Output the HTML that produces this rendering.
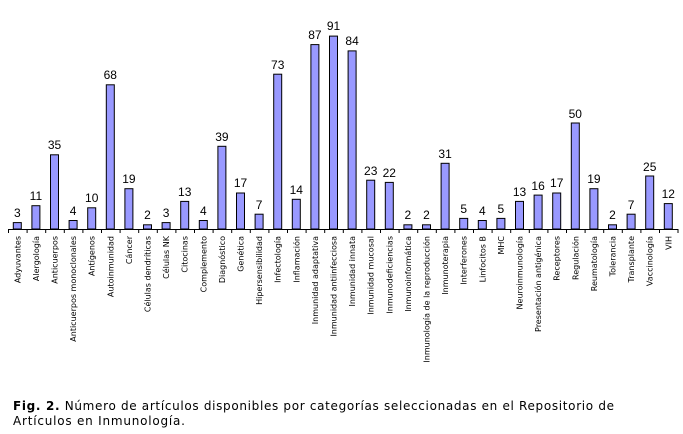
<!DOCTYPE html>
<html><head><meta charset="utf-8"><style>
body{margin:0;background:#fff;width:683px;height:434px;overflow:hidden}
svg{display:block}
.v{font:12px "Liberation Sans",sans-serif;text-anchor:middle;fill:#000}
.c{font:8px "DejaVu Sans",sans-serif;text-anchor:end;fill:#000}
rect{fill:#9999ff;stroke:#000;stroke-width:1}
.cap{font:12px "DejaVu Sans",sans-serif;fill:#000}
</style></head><body>
<svg width="683" height="434" xmlns="http://www.w3.org/2000/svg">
<g id="bars">
<g transform="translate(17.3,0)"><rect x="-4" y="222.6" width="8" height="6.4"/><text class="v" y="217">3</text><text class="c" transform="translate(3,236) rotate(-90)">Adyuvantes</text></g>
<g transform="translate(35.9,0)"><rect x="-4" y="205.7" width="8" height="23.3"/><text class="v" y="200">11</text><text class="c" transform="translate(3,236) rotate(-90)">Alergología</text></g>
<g transform="translate(54.5,0)"><rect x="-4" y="154.8" width="8" height="74.2"/><text class="v" y="149">35</text><text class="c" transform="translate(3,236) rotate(-90)">Anticuerpos</text></g>
<g transform="translate(73.1,0)"><rect x="-4" y="220.5" width="8" height="8.5"/><text class="v" y="215">4</text><text class="c" transform="translate(3,236) rotate(-90)">Anticuerpos monoclonales</text></g>
<g transform="translate(91.7,0)"><rect x="-4" y="207.8" width="8" height="21.2"/><text class="v" y="202">10</text><text class="c" transform="translate(3,236) rotate(-90)">Antígenos</text></g>
<g transform="translate(110.3,0)"><rect x="-4" y="84.8" width="8" height="144.2"/><text class="v" y="79">68</text><text class="c" transform="translate(3,236) rotate(-90)">Autoinmunidad</text></g>
<g transform="translate(128.9,0)"><rect x="-4" y="188.7" width="8" height="40.3"/><text class="v" y="183">19</text><text class="c" transform="translate(3,236) rotate(-90)">Cáncer</text></g>
<g transform="translate(147.5,0)"><rect x="-4" y="224.8" width="8" height="4.2"/><text class="v" y="219">2</text><text class="c" transform="translate(3,236) rotate(-90)">Células dendríticas</text></g>
<g transform="translate(166.1,0)"><rect x="-4" y="222.6" width="8" height="6.4"/><text class="v" y="217">3</text><text class="c" transform="translate(3,236) rotate(-90)">Células NK</text></g>
<g transform="translate(184.7,0)"><rect x="-4" y="201.4" width="8" height="27.6"/><text class="v" y="196">13</text><text class="c" transform="translate(3,236) rotate(-90)">Citocinas</text></g>
<g transform="translate(203.3,0)"><rect x="-4" y="220.5" width="8" height="8.5"/><text class="v" y="215">4</text><text class="c" transform="translate(3,236) rotate(-90)">Complemento</text></g>
<g transform="translate(221.9,0)"><rect x="-4" y="146.3" width="8" height="82.7"/><text class="v" y="141">39</text><text class="c" transform="translate(3,236) rotate(-90)">Diagnóstico</text></g>
<g transform="translate(240.5,0)"><rect x="-4" y="193" width="8" height="36"/><text class="v" y="187">17</text><text class="c" transform="translate(3,236) rotate(-90)">Genética</text></g>
<g transform="translate(259.1,0)"><rect x="-4" y="214.2" width="8" height="14.8"/><text class="v" y="209">7</text><text class="c" transform="translate(3,236) rotate(-90)">Hipersensibilidad</text></g>
<g transform="translate(277.7,0)"><rect x="-4" y="74.2" width="8" height="154.8"/><text class="v" y="69">73</text><text class="c" transform="translate(3,236) rotate(-90)">Infectología</text></g>
<g transform="translate(296.3,0)"><rect x="-4" y="199.3" width="8" height="29.7"/><text class="v" y="194">14</text><text class="c" transform="translate(3,236) rotate(-90)">Inflamación</text></g>
<g transform="translate(314.9,0)"><rect x="-4" y="44.6" width="8" height="184.4"/><text class="v" y="39">87</text><text class="c" transform="translate(3,236) rotate(-90)">Inmunidad adaptativa</text></g>
<g transform="translate(333.5,0)"><rect x="-4" y="36.1" width="8" height="192.9"/><text class="v" y="30">91</text><text class="c" transform="translate(3,236) rotate(-90)">Inmunidad antiinfecciosa</text></g>
<g transform="translate(352.1,0)"><rect x="-4" y="50.9" width="8" height="178.1"/><text class="v" y="45">84</text><text class="c" transform="translate(3,236) rotate(-90)">Inmunidad innata</text></g>
<g transform="translate(370.7,0)"><rect x="-4" y="180.2" width="8" height="48.8"/><text class="v" y="175">23</text><text class="c" transform="translate(3,236) rotate(-90)">Inmunidad mucosal</text></g>
<g transform="translate(389.3,0)"><rect x="-4" y="182.4" width="8" height="46.6"/><text class="v" y="177">22</text><text class="c" transform="translate(3,236) rotate(-90)">Inmunodeficiencias</text></g>
<g transform="translate(407.9,0)"><rect x="-4" y="224.8" width="8" height="4.2"/><text class="v" y="219">2</text><text class="c" transform="translate(3,236) rotate(-90)">Inmunoinformática</text></g>
<g transform="translate(426.5,0)"><rect x="-4" y="224.8" width="8" height="4.2"/><text class="v" y="219">2</text><text class="c" transform="translate(3,236) rotate(-90)">Inmunología de la reproducción</text></g>
<g transform="translate(445.1,0)"><rect x="-4" y="163.3" width="8" height="65.7"/><text class="v" y="158">31</text><text class="c" transform="translate(3,236) rotate(-90)">Inmunoterapia</text></g>
<g transform="translate(463.7,0)"><rect x="-4" y="218.4" width="8" height="10.6"/><text class="v" y="213">5</text><text class="c" transform="translate(3,236) rotate(-90)">Interferones</text></g>
<g transform="translate(482.3,0)"><rect x="-4" y="220.5" width="8" height="8.5"/><text class="v" y="215">4</text><text class="c" transform="translate(3,236) rotate(-90)">Linfocitos B</text></g>
<g transform="translate(500.9,0)"><rect x="-4" y="218.4" width="8" height="10.6"/><text class="v" y="213">5</text><text class="c" transform="translate(3,236) rotate(-90)">MHC</text></g>
<g transform="translate(519.5,0)"><rect x="-4" y="201.4" width="8" height="27.6"/><text class="v" y="196">13</text><text class="c" transform="translate(3,236) rotate(-90)">Neuroinmunología</text></g>
<g transform="translate(538.1,0)"><rect x="-4" y="195.1" width="8" height="33.9"/><text class="v" y="190">16</text><text class="c" transform="translate(3,236) rotate(-90)">Presentación antigénica</text></g>
<g transform="translate(556.7,0)"><rect x="-4" y="193" width="8" height="36"/><text class="v" y="187">17</text><text class="c" transform="translate(3,236) rotate(-90)">Receptores</text></g>
<g transform="translate(575.3,0)"><rect x="-4" y="123" width="8" height="106"/><text class="v" y="118">50</text><text class="c" transform="translate(3,236) rotate(-90)">Regulación</text></g>
<g transform="translate(593.9,0)"><rect x="-4" y="188.7" width="8" height="40.3"/><text class="v" y="183">19</text><text class="c" transform="translate(3,236) rotate(-90)">Reumatología</text></g>
<g transform="translate(612.5,0)"><rect x="-4" y="224.8" width="8" height="4.2"/><text class="v" y="219">2</text><text class="c" transform="translate(3,236) rotate(-90)">Tolerancia</text></g>
<g transform="translate(631.1,0)"><rect x="-4" y="214.2" width="8" height="14.8"/><text class="v" y="209">7</text><text class="c" transform="translate(3,236) rotate(-90)">Transplante</text></g>
<g transform="translate(649.7,0)"><rect x="-4" y="176" width="8" height="53"/><text class="v" y="171">25</text><text class="c" transform="translate(3,236) rotate(-90)">Vaccinología</text></g>
<g transform="translate(668.3,0)"><rect x="-4" y="203.6" width="8" height="25.4"/><text class="v" y="198">12</text><text class="c" transform="translate(3,236) rotate(-90)">VIH</text></g>
</g>
<line x1="8" y1="229.5" x2="678" y2="229.5" stroke="#000" stroke-width="1"/>
<path stroke="#000" stroke-width="1" fill="none" d="M8.5 229v4M27.1 229v4M45.7 229v4M64.3 229v4M82.9 229v4M101.5 229v4M120.1 229v4M138.7 229v4M157.3 229v4M175.9 229v4M194.5 229v4M213.1 229v4M231.7 229v4M250.3 229v4M268.9 229v4M287.5 229v4M306.1 229v4M324.7 229v4M343.3 229v4M361.9 229v4M380.5 229v4M399.1 229v4M417.7 229v4M436.3 229v4M454.9 229v4M473.5 229v4M492.1 229v4M510.7 229v4M529.3 229v4M547.9 229v4M566.5 229v4M585.1 229v4M603.7 229v4M622.3 229v4M640.9 229v4M659.5 229v4M678 229v4"/>
<text class="cap" x="13" y="410" textLength="601" lengthAdjust="spacing"><tspan font-weight="bold">Fig. 2.</tspan> Número de artículos disponibles por categorías seleccionadas en el Repositorio de</text>
<text class="cap" x="13" y="425" textLength="172" lengthAdjust="spacing">Artículos en Inmunología.</text>
</svg>
</body></html>
